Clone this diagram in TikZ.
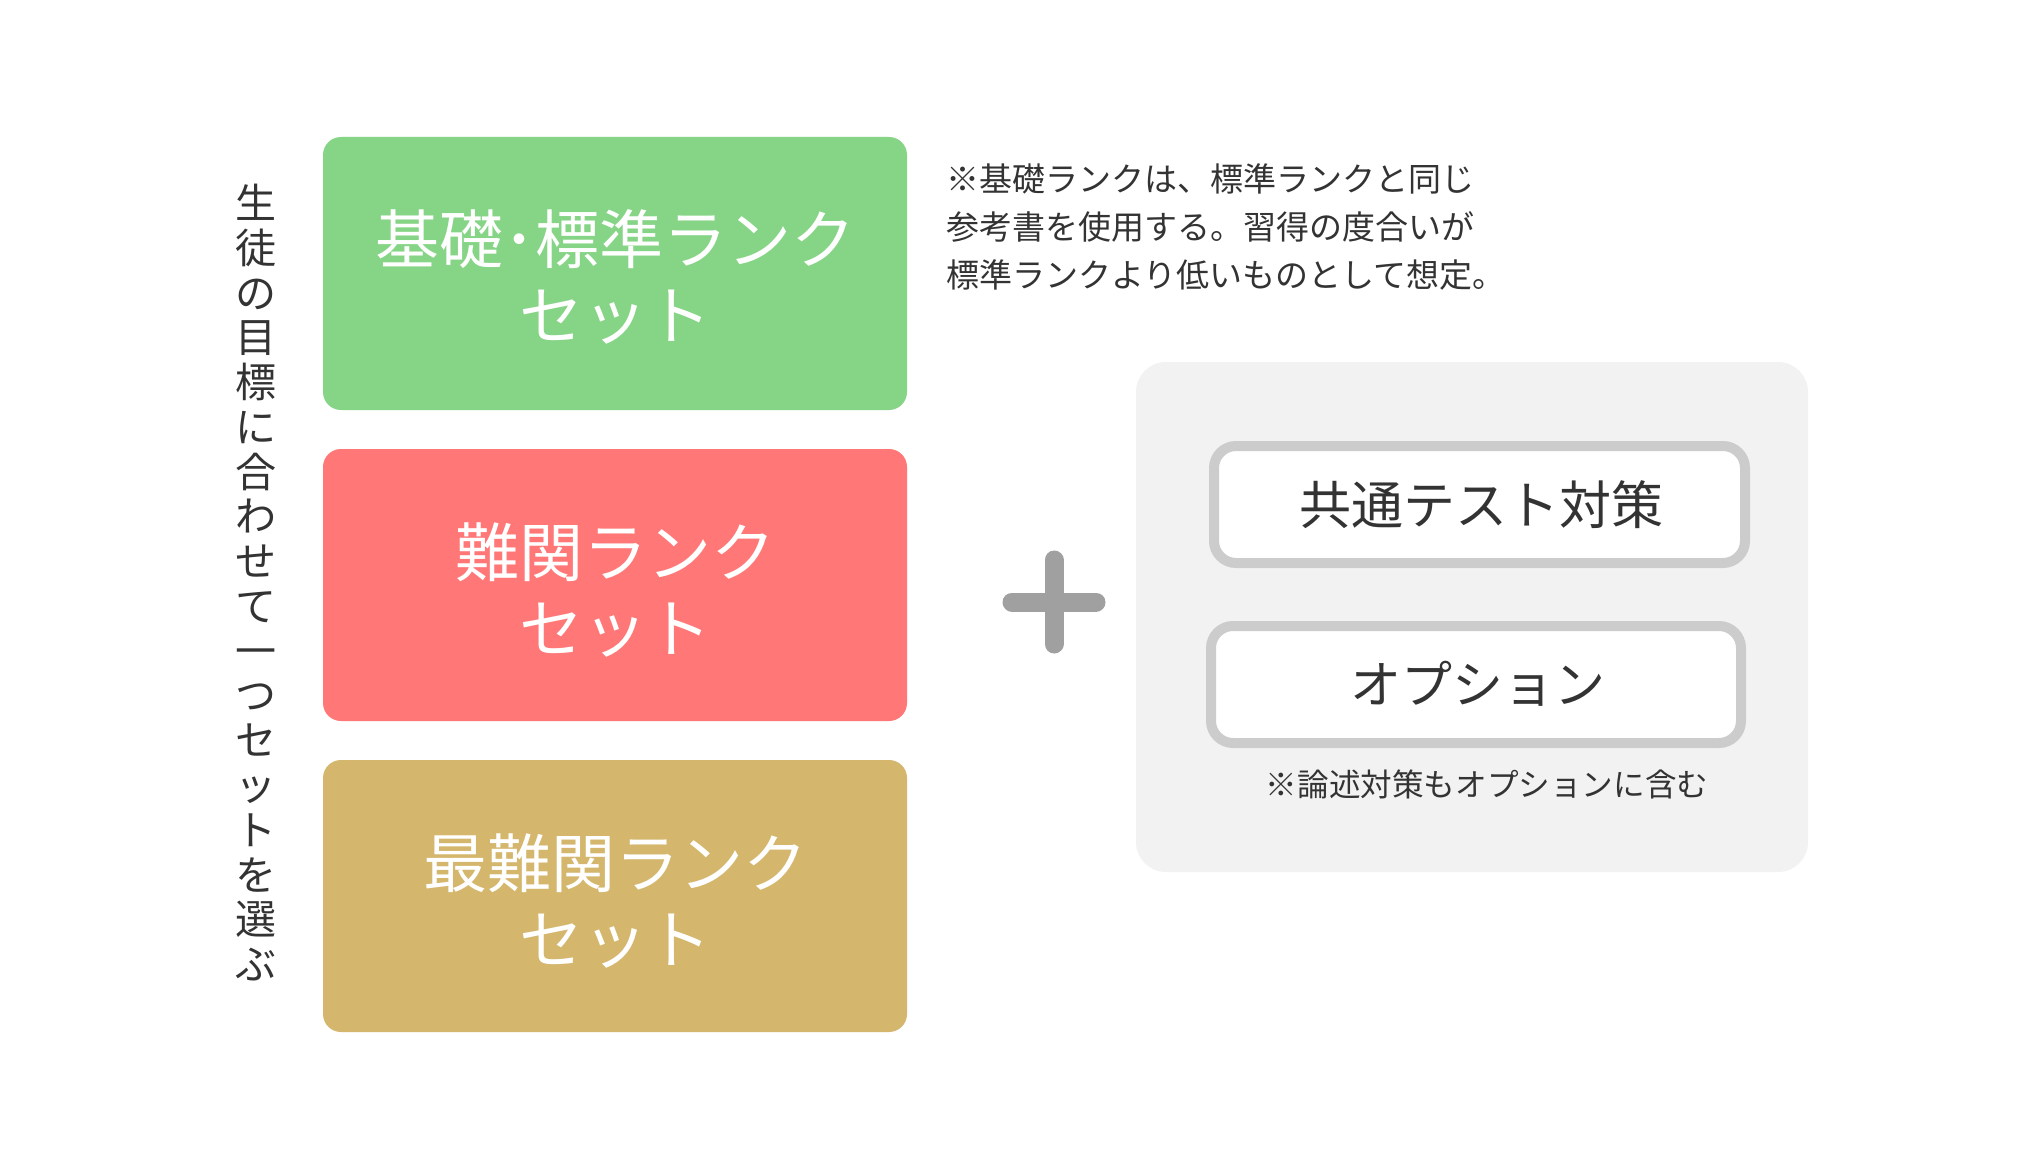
\documentclass[tikz,border=0pt]{standalone}
\usepackage{fontspec}
\setmainfont{Noto Sans CJK JP}
\definecolor{cgreen}{RGB}{134,212,134}
\definecolor{cred}{RGB}{255,119,119}
\definecolor{cgold}{RGB}{212,182,108}
\definecolor{cpanel}{RGB}{242,242,242}
\definecolor{cborder}{RGB}{204,204,204}
\definecolor{ctext}{RGB}{51,51,51}
\definecolor{cplus}{RGB}{160,160,160}
\tikzset{
  rankbox/.style={rounded corners=9pt, inner sep=0pt},
  ranktext/.style={text=white, align=center, font=\fontsize{32}{38}\selectfont, inner sep=0pt},
  optbox/.style={draw=cborder, line width=5pt, fill=white, rounded corners=11pt},
  opttext/.style={text=ctext, font=\fontsize{26}{30}\selectfont, inner sep=0pt},
  notetext/.style={text=ctext, font=\fontsize{16.5}{24}\selectfont, inner sep=0pt},
  fntext/.style={text=ctext, font=\fontsize{15.8}{24}\selectfont, inner sep=0pt},
  captext/.style={text=ctext, font=\fontsize{20.5}{22}\selectfont, inner sep=0pt, anchor=base}
}
\begin{document}
\begin{tikzpicture}[x=0.5pt,y=-0.5pt]
\useasboundingbox (0,0) rectangle (2040,1155);
\fill[white] (0,0) rectangle (2040,1155);
% vertical caption
\foreach \c [count=\i from 0] in {生,徒,の,目,標,に,合,わ,せ,て,一,つ,セ,ッ,ト,を,選,ぶ}
  \node[captext] (cap\i) at (256, 218.6+\i*44.76) {\c};
% rank boxes
\fill[cgreen, rankbox] (323,137) rectangle (907,410);
\node[ranktext] (g) at (615,277) {基礎･標準ランク\\セット};
\fill[cred, rankbox] (323,449) rectangle (907,721);
\node[ranktext] (r) at (615,590) {難関ランク\\セット};
\fill[cgold, rankbox] (323,760) rectangle (907,1032);
\node[ranktext] (y) at (615,901) {最難関ランク\\セット};
% note
\node[notetext, anchor=north west, align=left] (note) at (946,163)
 {※基礎ランクは、標準ランクと同じ\\参考書を使用する。習得の度合いが\\標準ランクより低いものとして想定。};
% plus
\coordinate (pc) at (1054,602);
\draw[cplus, line width=9.5pt, line cap=round] (1012,602) -- (1096,602);
\draw[cplus, line width=9.5pt, line cap=round] (1054,560) -- (1054,644);
% panel
\fill[cpanel, rounded corners=15pt] (1136,362) rectangle (1808,872);
\draw[optbox] (1214,446) rectangle (1745,563);
\node[opttext] (o1) at (1481,505) {共通テスト対策};
\draw[optbox] (1211,626) rectangle (1741,743);
\node[opttext, font=\fontsize{25.5}{30}\selectfont] (o2) at (1478,684) {オプション};
\node[fntext] (fn) at (1487,784) {※論述対策もオプションに含む};
\end{tikzpicture}
\end{document}
